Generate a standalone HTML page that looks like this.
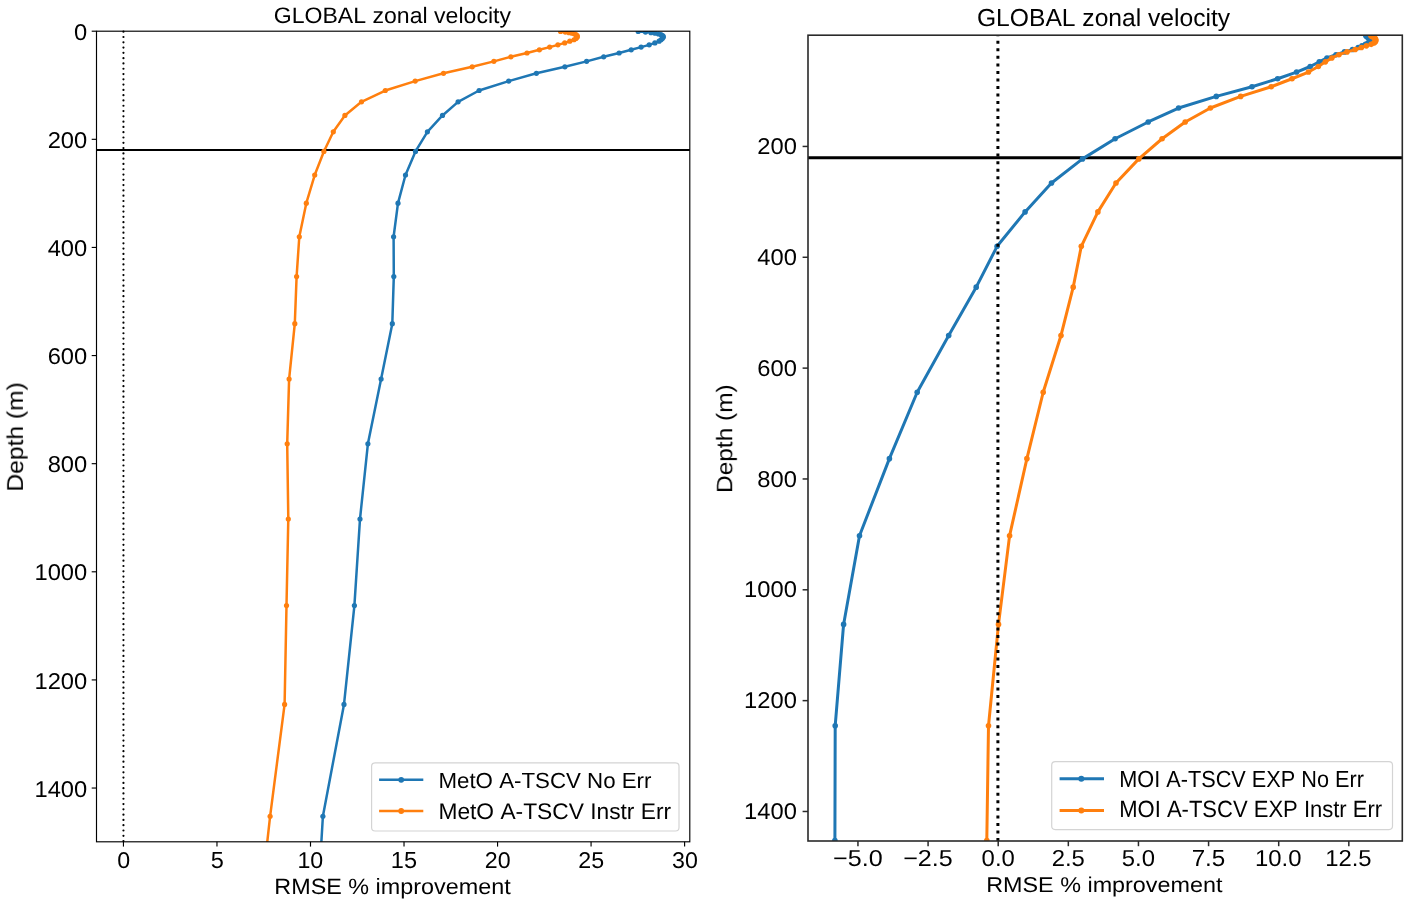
<!DOCTYPE html><html><head><meta charset="utf-8"><title>GLOBAL zonal velocity</title><style>html,body{margin:0;padding:0;background:#fff;overflow:hidden}svg{display:block;filter:blur(0.3px)}text{font-family:"Liberation Sans", sans-serif;font-kerning:none;fill:#000;text-rendering:geometricPrecision}.t{opacity:0.999}</style></head><body>
<svg width="1417" height="907" viewBox="0 0 1417 907">
<rect width="1417" height="907" fill="#fff"/>
<defs><clipPath id="cl"><rect x="96.5" y="31.2" width="593.3" height="810.6"/></clipPath>
<clipPath id="cr"><rect x="808.0" y="35.2" width="594.3" height="805.8"/></clipPath></defs>
<line x1="123.45" y1="31.2" x2="123.45" y2="841.8" stroke="#000" stroke-width="2.2" stroke-dasharray="0.01 5.28" stroke-linecap="round" stroke-dashoffset="-0.5"/>
<line x1="96.5" y1="150" x2="689.8" y2="150" stroke="#000" stroke-width="2.2"/>
<g clip-path="url(#cl)"><polyline points="638.2,31.47 645.5,32.03 651,32.63 655,33.26 658.5,33.95 661,34.68 662.6,35.49 663.2,36.38 663.2,37.37 662.3,38.48 661,39.75 659.1,41.2 654.9,42.88 649.2,44.83 641.1,47.12 631.2,49.82 619.1,53.01 603.7,56.81 586.6,61.35 564.9,66.78 536.4,73.29 508.7,81.11 479.1,90.52 458.1,101.84 442.5,115.45 427.4,131.82 415.5,151.47 405.5,175.02 398,203.18 393.6,236.74 393.8,276.6 392.3,323.71 381.1,379.11 367.9,443.86 360,519 354.4,605.56 344,704.4 322.9,816.29 315.4,941.72" fill="none" stroke="#1f77b4" stroke-width="2.5" stroke-linejoin="round" stroke-linecap="butt"/><circle cx="638.2" cy="31.47" r="2.6" fill="#1f77b4"/><circle cx="645.5" cy="32.03" r="2.6" fill="#1f77b4"/><circle cx="651" cy="32.63" r="2.6" fill="#1f77b4"/><circle cx="655" cy="33.26" r="2.6" fill="#1f77b4"/><circle cx="658.5" cy="33.95" r="2.6" fill="#1f77b4"/><circle cx="661" cy="34.68" r="2.6" fill="#1f77b4"/><circle cx="662.6" cy="35.49" r="2.6" fill="#1f77b4"/><circle cx="663.2" cy="36.38" r="2.6" fill="#1f77b4"/><circle cx="663.2" cy="37.37" r="2.6" fill="#1f77b4"/><circle cx="662.3" cy="38.48" r="2.6" fill="#1f77b4"/><circle cx="661" cy="39.75" r="2.6" fill="#1f77b4"/><circle cx="659.1" cy="41.2" r="2.6" fill="#1f77b4"/><circle cx="654.9" cy="42.88" r="2.6" fill="#1f77b4"/><circle cx="649.2" cy="44.83" r="2.6" fill="#1f77b4"/><circle cx="641.1" cy="47.12" r="2.6" fill="#1f77b4"/><circle cx="631.2" cy="49.82" r="2.6" fill="#1f77b4"/><circle cx="619.1" cy="53.01" r="2.6" fill="#1f77b4"/><circle cx="603.7" cy="56.81" r="2.6" fill="#1f77b4"/><circle cx="586.6" cy="61.35" r="2.6" fill="#1f77b4"/><circle cx="564.9" cy="66.78" r="2.6" fill="#1f77b4"/><circle cx="536.4" cy="73.29" r="2.6" fill="#1f77b4"/><circle cx="508.7" cy="81.11" r="2.6" fill="#1f77b4"/><circle cx="479.1" cy="90.52" r="2.6" fill="#1f77b4"/><circle cx="458.1" cy="101.84" r="2.6" fill="#1f77b4"/><circle cx="442.5" cy="115.45" r="2.6" fill="#1f77b4"/><circle cx="427.4" cy="131.82" r="2.6" fill="#1f77b4"/><circle cx="415.5" cy="151.47" r="2.6" fill="#1f77b4"/><circle cx="405.5" cy="175.02" r="2.6" fill="#1f77b4"/><circle cx="398" cy="203.18" r="2.6" fill="#1f77b4"/><circle cx="393.6" cy="236.74" r="2.6" fill="#1f77b4"/><circle cx="393.8" cy="276.6" r="2.6" fill="#1f77b4"/><circle cx="392.3" cy="323.71" r="2.6" fill="#1f77b4"/><circle cx="381.1" cy="379.11" r="2.6" fill="#1f77b4"/><circle cx="367.9" cy="443.86" r="2.6" fill="#1f77b4"/><circle cx="360" cy="519" r="2.6" fill="#1f77b4"/><circle cx="354.4" cy="605.56" r="2.6" fill="#1f77b4"/><circle cx="344" cy="704.4" r="2.6" fill="#1f77b4"/><circle cx="322.9" cy="816.29" r="2.6" fill="#1f77b4"/><circle cx="315.4" cy="941.72" r="2.6" fill="#1f77b4"/></g>
<g clip-path="url(#cl)"><polyline points="560.6,31.47 565.3,32.03 569,32.63 572,33.26 574.5,33.95 576,34.68 577,35.49 577.3,36.38 577,37.37 576,38.48 574,39.75 569.8,41.2 564.7,42.88 557.9,44.83 549.7,47.12 539.4,49.82 527,53.01 510.9,56.81 493.9,61.35 472.2,66.78 443.5,73.29 415.2,81.11 385.3,90.52 361.5,101.84 344.9,115.45 333.3,131.82 323.9,151.47 314.7,175.02 306.3,203.18 299.3,236.74 296.6,276.6 294.8,323.71 289.1,379.11 287.2,443.86 288.3,519 286.5,605.56 284.6,704.4 270.1,816.29 256.2,941.72" fill="none" stroke="#ff7f0e" stroke-width="2.5" stroke-linejoin="round" stroke-linecap="butt"/><circle cx="560.6" cy="31.47" r="2.6" fill="#ff7f0e"/><circle cx="565.3" cy="32.03" r="2.6" fill="#ff7f0e"/><circle cx="569" cy="32.63" r="2.6" fill="#ff7f0e"/><circle cx="572" cy="33.26" r="2.6" fill="#ff7f0e"/><circle cx="574.5" cy="33.95" r="2.6" fill="#ff7f0e"/><circle cx="576" cy="34.68" r="2.6" fill="#ff7f0e"/><circle cx="577" cy="35.49" r="2.6" fill="#ff7f0e"/><circle cx="577.3" cy="36.38" r="2.6" fill="#ff7f0e"/><circle cx="577" cy="37.37" r="2.6" fill="#ff7f0e"/><circle cx="576" cy="38.48" r="2.6" fill="#ff7f0e"/><circle cx="574" cy="39.75" r="2.6" fill="#ff7f0e"/><circle cx="569.8" cy="41.2" r="2.6" fill="#ff7f0e"/><circle cx="564.7" cy="42.88" r="2.6" fill="#ff7f0e"/><circle cx="557.9" cy="44.83" r="2.6" fill="#ff7f0e"/><circle cx="549.7" cy="47.12" r="2.6" fill="#ff7f0e"/><circle cx="539.4" cy="49.82" r="2.6" fill="#ff7f0e"/><circle cx="527" cy="53.01" r="2.6" fill="#ff7f0e"/><circle cx="510.9" cy="56.81" r="2.6" fill="#ff7f0e"/><circle cx="493.9" cy="61.35" r="2.6" fill="#ff7f0e"/><circle cx="472.2" cy="66.78" r="2.6" fill="#ff7f0e"/><circle cx="443.5" cy="73.29" r="2.6" fill="#ff7f0e"/><circle cx="415.2" cy="81.11" r="2.6" fill="#ff7f0e"/><circle cx="385.3" cy="90.52" r="2.6" fill="#ff7f0e"/><circle cx="361.5" cy="101.84" r="2.6" fill="#ff7f0e"/><circle cx="344.9" cy="115.45" r="2.6" fill="#ff7f0e"/><circle cx="333.3" cy="131.82" r="2.6" fill="#ff7f0e"/><circle cx="323.9" cy="151.47" r="2.6" fill="#ff7f0e"/><circle cx="314.7" cy="175.02" r="2.6" fill="#ff7f0e"/><circle cx="306.3" cy="203.18" r="2.6" fill="#ff7f0e"/><circle cx="299.3" cy="236.74" r="2.6" fill="#ff7f0e"/><circle cx="296.6" cy="276.6" r="2.6" fill="#ff7f0e"/><circle cx="294.8" cy="323.71" r="2.6" fill="#ff7f0e"/><circle cx="289.1" cy="379.11" r="2.6" fill="#ff7f0e"/><circle cx="287.2" cy="443.86" r="2.6" fill="#ff7f0e"/><circle cx="288.3" cy="519" r="2.6" fill="#ff7f0e"/><circle cx="286.5" cy="605.56" r="2.6" fill="#ff7f0e"/><circle cx="284.6" cy="704.4" r="2.6" fill="#ff7f0e"/><circle cx="270.1" cy="816.29" r="2.6" fill="#ff7f0e"/><circle cx="256.2" cy="941.72" r="2.6" fill="#ff7f0e"/></g>
<rect x="96.5" y="31.2" width="593.3" height="810.6" fill="none" stroke="#000" stroke-width="1.15"/>
<line x1="123.45" y1="841.8" x2="123.45" y2="846.6" stroke="#000" stroke-width="1.15"/>
<line x1="216.97" y1="841.8" x2="216.97" y2="846.6" stroke="#000" stroke-width="1.15"/>
<line x1="310.5" y1="841.8" x2="310.5" y2="846.6" stroke="#000" stroke-width="1.15"/>
<line x1="404.02" y1="841.8" x2="404.02" y2="846.6" stroke="#000" stroke-width="1.15"/>
<line x1="497.55" y1="841.8" x2="497.55" y2="846.6" stroke="#000" stroke-width="1.15"/>
<line x1="591.07" y1="841.8" x2="591.07" y2="846.6" stroke="#000" stroke-width="1.15"/>
<line x1="684.6" y1="841.8" x2="684.6" y2="846.6" stroke="#000" stroke-width="1.15"/>
<line x1="91.7" y1="31.2" x2="96.5" y2="31.2" stroke="#000" stroke-width="1.15"/>
<line x1="91.7" y1="139.32" x2="96.5" y2="139.32" stroke="#000" stroke-width="1.15"/>
<line x1="91.7" y1="247.44" x2="96.5" y2="247.44" stroke="#000" stroke-width="1.15"/>
<line x1="91.7" y1="355.56" x2="96.5" y2="355.56" stroke="#000" stroke-width="1.15"/>
<line x1="91.7" y1="463.68" x2="96.5" y2="463.68" stroke="#000" stroke-width="1.15"/>
<line x1="91.7" y1="571.8" x2="96.5" y2="571.8" stroke="#000" stroke-width="1.15"/>
<line x1="91.7" y1="679.92" x2="96.5" y2="679.92" stroke="#000" stroke-width="1.15"/>
<line x1="91.7" y1="788.04" x2="96.5" y2="788.04" stroke="#000" stroke-width="1.15"/>
<rect x="371.6" y="762.8" width="307.4" height="68.2" rx="3.5" fill="#fff" stroke="#d4d4d4" stroke-width="1.2"/>
<line x1="379.1" y1="779.8" x2="423.3" y2="779.8" stroke="#1f77b4" stroke-width="2.5"/><circle cx="401.2" cy="779.8" r="2.9" fill="#1f77b4"/>
<line x1="379.1" y1="811" x2="423.3" y2="811" stroke="#ff7f0e" stroke-width="2.5"/><circle cx="401.2" cy="811" r="2.9" fill="#ff7f0e"/>
<line x1="808.0" y1="157.8" x2="1402.3" y2="157.8" stroke="#000" stroke-width="2.9"/>
<g clip-path="url(#cr)"><polyline points="1365.8,35.87 1366.7,36.45 1367.5,37.07 1368.3,37.72 1369,38.41 1369.6,39.17 1370,39.99 1370,40.91 1369.5,41.92 1368,43.06 1365.5,44.36 1362,45.85 1358.2,47.57 1352.5,49.57 1344.5,51.92 1336,54.68 1327,57.96 1319.3,61.85 1310.2,66.5 1296.6,72.07 1277.6,78.75 1252,86.77 1216.3,96.41 1178.6,108.02 1148.2,121.97 1115.1,138.75 1082.5,158.9 1051.5,183.04 1025.1,211.91 997.1,246.31 976.2,287.17 948.7,335.47 917.2,392.26 889.4,458.64 859.5,535.68 843.6,624.4 835.2,725.74 834.9,840.44" fill="none" stroke="#1f77b4" stroke-width="3.0" stroke-linejoin="round" stroke-linecap="butt"/><circle cx="1365.8" cy="35.87" r="2.8" fill="#1f77b4"/><circle cx="1366.7" cy="36.45" r="2.8" fill="#1f77b4"/><circle cx="1367.5" cy="37.07" r="2.8" fill="#1f77b4"/><circle cx="1368.3" cy="37.72" r="2.8" fill="#1f77b4"/><circle cx="1369" cy="38.41" r="2.8" fill="#1f77b4"/><circle cx="1369.6" cy="39.17" r="2.8" fill="#1f77b4"/><circle cx="1370" cy="39.99" r="2.8" fill="#1f77b4"/><circle cx="1370" cy="40.91" r="2.8" fill="#1f77b4"/><circle cx="1369.5" cy="41.92" r="2.8" fill="#1f77b4"/><circle cx="1368" cy="43.06" r="2.8" fill="#1f77b4"/><circle cx="1365.5" cy="44.36" r="2.8" fill="#1f77b4"/><circle cx="1362" cy="45.85" r="2.8" fill="#1f77b4"/><circle cx="1358.2" cy="47.57" r="2.8" fill="#1f77b4"/><circle cx="1352.5" cy="49.57" r="2.8" fill="#1f77b4"/><circle cx="1344.5" cy="51.92" r="2.8" fill="#1f77b4"/><circle cx="1336" cy="54.68" r="2.8" fill="#1f77b4"/><circle cx="1327" cy="57.96" r="2.8" fill="#1f77b4"/><circle cx="1319.3" cy="61.85" r="2.8" fill="#1f77b4"/><circle cx="1310.2" cy="66.5" r="2.8" fill="#1f77b4"/><circle cx="1296.6" cy="72.07" r="2.8" fill="#1f77b4"/><circle cx="1277.6" cy="78.75" r="2.8" fill="#1f77b4"/><circle cx="1252" cy="86.77" r="2.8" fill="#1f77b4"/><circle cx="1216.3" cy="96.41" r="2.8" fill="#1f77b4"/><circle cx="1178.6" cy="108.02" r="2.8" fill="#1f77b4"/><circle cx="1148.2" cy="121.97" r="2.8" fill="#1f77b4"/><circle cx="1115.1" cy="138.75" r="2.8" fill="#1f77b4"/><circle cx="1082.5" cy="158.9" r="2.8" fill="#1f77b4"/><circle cx="1051.5" cy="183.04" r="2.8" fill="#1f77b4"/><circle cx="1025.1" cy="211.91" r="2.8" fill="#1f77b4"/><circle cx="997.1" cy="246.31" r="2.8" fill="#1f77b4"/><circle cx="976.2" cy="287.17" r="2.8" fill="#1f77b4"/><circle cx="948.7" cy="335.47" r="2.8" fill="#1f77b4"/><circle cx="917.2" cy="392.26" r="2.8" fill="#1f77b4"/><circle cx="889.4" cy="458.64" r="2.8" fill="#1f77b4"/><circle cx="859.5" cy="535.68" r="2.8" fill="#1f77b4"/><circle cx="843.6" cy="624.4" r="2.8" fill="#1f77b4"/><circle cx="835.2" cy="725.74" r="2.8" fill="#1f77b4"/><circle cx="834.9" cy="840.44" r="2.8" fill="#1f77b4"/></g>
<g clip-path="url(#cr)"><polyline points="1370.8,35.87 1372,36.45 1373.2,37.07 1374.2,37.72 1375,38.41 1375.5,39.17 1375.8,39.99 1375.7,40.91 1375.1,41.92 1373.9,43.06 1371.2,44.36 1366.4,45.85 1361.4,47.57 1355.2,49.57 1347,51.92 1338.9,54.68 1331.8,57.96 1325.4,61.85 1318.3,66.5 1308.5,72.07 1292,78.75 1271.2,86.77 1240.7,96.41 1210.4,108.02 1185.2,121.97 1162.1,138.75 1138.8,158.9 1116,183.04 1097.9,211.91 1081.3,246.31 1073.2,287.17 1061,335.47 1043.2,392.26 1026.9,458.64 1009.6,535.68 998.5,624.4 988.5,725.74 986.8,840.44" fill="none" stroke="#ff7f0e" stroke-width="3.0" stroke-linejoin="round" stroke-linecap="butt"/><circle cx="1370.8" cy="35.87" r="2.8" fill="#ff7f0e"/><circle cx="1372" cy="36.45" r="2.8" fill="#ff7f0e"/><circle cx="1373.2" cy="37.07" r="2.8" fill="#ff7f0e"/><circle cx="1374.2" cy="37.72" r="2.8" fill="#ff7f0e"/><circle cx="1375" cy="38.41" r="2.8" fill="#ff7f0e"/><circle cx="1375.5" cy="39.17" r="2.8" fill="#ff7f0e"/><circle cx="1375.8" cy="39.99" r="2.8" fill="#ff7f0e"/><circle cx="1375.7" cy="40.91" r="2.8" fill="#ff7f0e"/><circle cx="1375.1" cy="41.92" r="2.8" fill="#ff7f0e"/><circle cx="1373.9" cy="43.06" r="2.8" fill="#ff7f0e"/><circle cx="1371.2" cy="44.36" r="2.8" fill="#ff7f0e"/><circle cx="1366.4" cy="45.85" r="2.8" fill="#ff7f0e"/><circle cx="1361.4" cy="47.57" r="2.8" fill="#ff7f0e"/><circle cx="1355.2" cy="49.57" r="2.8" fill="#ff7f0e"/><circle cx="1347" cy="51.92" r="2.8" fill="#ff7f0e"/><circle cx="1338.9" cy="54.68" r="2.8" fill="#ff7f0e"/><circle cx="1331.8" cy="57.96" r="2.8" fill="#ff7f0e"/><circle cx="1325.4" cy="61.85" r="2.8" fill="#ff7f0e"/><circle cx="1318.3" cy="66.5" r="2.8" fill="#ff7f0e"/><circle cx="1308.5" cy="72.07" r="2.8" fill="#ff7f0e"/><circle cx="1292" cy="78.75" r="2.8" fill="#ff7f0e"/><circle cx="1271.2" cy="86.77" r="2.8" fill="#ff7f0e"/><circle cx="1240.7" cy="96.41" r="2.8" fill="#ff7f0e"/><circle cx="1210.4" cy="108.02" r="2.8" fill="#ff7f0e"/><circle cx="1185.2" cy="121.97" r="2.8" fill="#ff7f0e"/><circle cx="1162.1" cy="138.75" r="2.8" fill="#ff7f0e"/><circle cx="1138.8" cy="158.9" r="2.8" fill="#ff7f0e"/><circle cx="1116" cy="183.04" r="2.8" fill="#ff7f0e"/><circle cx="1097.9" cy="211.91" r="2.8" fill="#ff7f0e"/><circle cx="1081.3" cy="246.31" r="2.8" fill="#ff7f0e"/><circle cx="1073.2" cy="287.17" r="2.8" fill="#ff7f0e"/><circle cx="1061" cy="335.47" r="2.8" fill="#ff7f0e"/><circle cx="1043.2" cy="392.26" r="2.8" fill="#ff7f0e"/><circle cx="1026.9" cy="458.64" r="2.8" fill="#ff7f0e"/><circle cx="1009.6" cy="535.68" r="2.8" fill="#ff7f0e"/><circle cx="998.5" cy="624.4" r="2.8" fill="#ff7f0e"/><circle cx="988.5" cy="725.74" r="2.8" fill="#ff7f0e"/><circle cx="986.8" cy="840.44" r="2.8" fill="#ff7f0e"/></g>
<line x1="997.9" y1="35.2" x2="997.9" y2="841.0" stroke="#000" stroke-width="3" stroke-dasharray="3 4.52" stroke-dashoffset="1.9" clip-path="url(#cr)"/>
<rect x="808.0" y="35.2" width="594.3" height="805.8" fill="none" stroke="#2a2a2a" stroke-width="1.6"/>
<line x1="857.95" y1="841.0" x2="857.95" y2="846.2" stroke="#2a2a2a" stroke-width="1.5"/>
<line x1="928.08" y1="841.0" x2="928.08" y2="846.2" stroke="#2a2a2a" stroke-width="1.5"/>
<line x1="998.2" y1="841.0" x2="998.2" y2="846.2" stroke="#2a2a2a" stroke-width="1.5"/>
<line x1="1068.33" y1="841.0" x2="1068.33" y2="846.2" stroke="#2a2a2a" stroke-width="1.5"/>
<line x1="1138.45" y1="841.0" x2="1138.45" y2="846.2" stroke="#2a2a2a" stroke-width="1.5"/>
<line x1="1208.58" y1="841.0" x2="1208.58" y2="846.2" stroke="#2a2a2a" stroke-width="1.5"/>
<line x1="1278.7" y1="841.0" x2="1278.7" y2="846.2" stroke="#2a2a2a" stroke-width="1.5"/>
<line x1="1348.83" y1="841.0" x2="1348.83" y2="846.2" stroke="#2a2a2a" stroke-width="1.5"/>
<line x1="802.6" y1="146.44" x2="808.0" y2="146.44" stroke="#2a2a2a" stroke-width="1.5"/>
<line x1="802.6" y1="257.28" x2="808.0" y2="257.28" stroke="#2a2a2a" stroke-width="1.5"/>
<line x1="802.6" y1="368.12" x2="808.0" y2="368.12" stroke="#2a2a2a" stroke-width="1.5"/>
<line x1="802.6" y1="478.96" x2="808.0" y2="478.96" stroke="#2a2a2a" stroke-width="1.5"/>
<line x1="802.6" y1="589.8" x2="808.0" y2="589.8" stroke="#2a2a2a" stroke-width="1.5"/>
<line x1="802.6" y1="700.64" x2="808.0" y2="700.64" stroke="#2a2a2a" stroke-width="1.5"/>
<line x1="802.6" y1="811.48" x2="808.0" y2="811.48" stroke="#2a2a2a" stroke-width="1.5"/>
<rect x="1051.7" y="761.7" width="340.8" height="67.9" rx="3.5" fill="#fff" stroke="#d4d4d4" stroke-width="1.2"/>
<line x1="1059.6" y1="778.7" x2="1104" y2="778.7" stroke="#1f77b4" stroke-width="3"/><circle cx="1081.3" cy="778.7" r="3.0" fill="#1f77b4"/>
<line x1="1059.6" y1="810.6" x2="1104" y2="810.6" stroke="#ff7f0e" stroke-width="3"/><circle cx="1081.3" cy="810.6" r="3.0" fill="#ff7f0e"/>
<g opacity="0.999"><text transform="translate(117.29 867.9) scale(1.0200 1)" font-size="22.771">0</text><text transform="translate(210.74 867.9) scale(1.0200 1)" font-size="23.111">5</text><text transform="translate(297.45 867.9) scale(1.0200 1)" font-size="22.771">10</text><text transform="translate(390.81 867.9) scale(1.0200 1)" font-size="23.111">15</text><text transform="translate(484.8 867.9) scale(1.0200 1)" font-size="22.771">20</text><text transform="translate(578.36 867.9) scale(1.0200 1)" font-size="22.771">25</text><text transform="translate(671.99 867.9) scale(1.0200 1)" font-size="22.771">30</text><text transform="translate(74.04 39.8) scale(1.0350 1)" font-size="22.915">0</text><text transform="translate(47.66 147.92) scale(1.0350 1)" font-size="22.915">200</text><text transform="translate(47.66 256.04) scale(1.0350 1)" font-size="22.915">400</text><text transform="translate(47.66 364.16) scale(1.0350 1)" font-size="22.915">600</text><text transform="translate(47.66 472.28) scale(1.0350 1)" font-size="22.915">800</text><text transform="translate(34.47 580.4) scale(1.0350 1)" font-size="22.915">1000</text><text transform="translate(34.47 688.52) scale(1.0350 1)" font-size="22.915">1200</text><text transform="translate(34.47 796.64) scale(1.0350 1)" font-size="22.915">1400</text><text transform="translate(273.74 23.2) scale(1.0327 1)" font-size="22.357">GLOBAL zonal velocity</text><text transform="translate(274.28 893.6) scale(1.0590 1)" font-size="22.081">RMSE % improvement</text><text transform="translate(22.9 491.62) rotate(-90) scale(1.0823 1)" font-size="22.771">Depth (m)</text><text transform="translate(438.47 787.7) scale(1.0172 1)" font-size="21.912">MetO A-TSCV No Err</text><text transform="translate(438.43 818.7) scale(1.0065 1)" font-size="22.628">MetO A-TSCV Instr Err</text><text transform="translate(833.01 866) scale(1.0900 1)" font-size="23.058">−5.0</text><text transform="translate(903.18 866) scale(1.0900 1)" font-size="23.058">−2.5</text><text transform="translate(981.61 866) scale(1.0350 1)" font-size="23.058">0.0</text><text transform="translate(1051.64 866) scale(1.0350 1)" font-size="23.058">2.5</text><text transform="translate(1121.85 866) scale(1.0350 1)" font-size="23.058">5.0</text><text transform="translate(1191.63 866) scale(1.0350 1)" font-size="23.402">7.5</text><text transform="translate(1255.03 866) scale(1.0350 1)" font-size="23.058">10.0</text><text transform="translate(1325.19 866) scale(1.0350 1)" font-size="23.058">12.5</text><text transform="translate(757.26 154.04) scale(1.0350 1)" font-size="22.915">200</text><text transform="translate(757.26 264.88) scale(1.0350 1)" font-size="22.915">400</text><text transform="translate(757.26 375.72) scale(1.0350 1)" font-size="22.915">600</text><text transform="translate(757.26 486.56) scale(1.0350 1)" font-size="22.915">800</text><text transform="translate(744.07 597.4) scale(1.0350 1)" font-size="22.915">1000</text><text transform="translate(744.07 708.24) scale(1.0350 1)" font-size="22.915">1200</text><text transform="translate(744.07 819.08) scale(1.0350 1)" font-size="22.915">1400</text><text transform="translate(976.96 26.1) scale(1.0031 1)" font-size="24.565">GLOBAL zonal velocity</text><text transform="translate(986.18 892.2) scale(1.0931 1)" font-size="21.391">RMSE % improvement</text><text transform="translate(732.2 493.01) rotate(-90) scale(1.0940 1)" font-size="22.357">Depth (m)</text><text transform="translate(1119.22 786.6) scale(0.9360 1)" font-size="23.201">MOI A-TSCV EXP No Err</text><text transform="translate(1119.19 817.4) scale(0.9380 1)" font-size="23.488">MOI A-TSCV EXP Instr Err</text></g>
</svg></body></html>
